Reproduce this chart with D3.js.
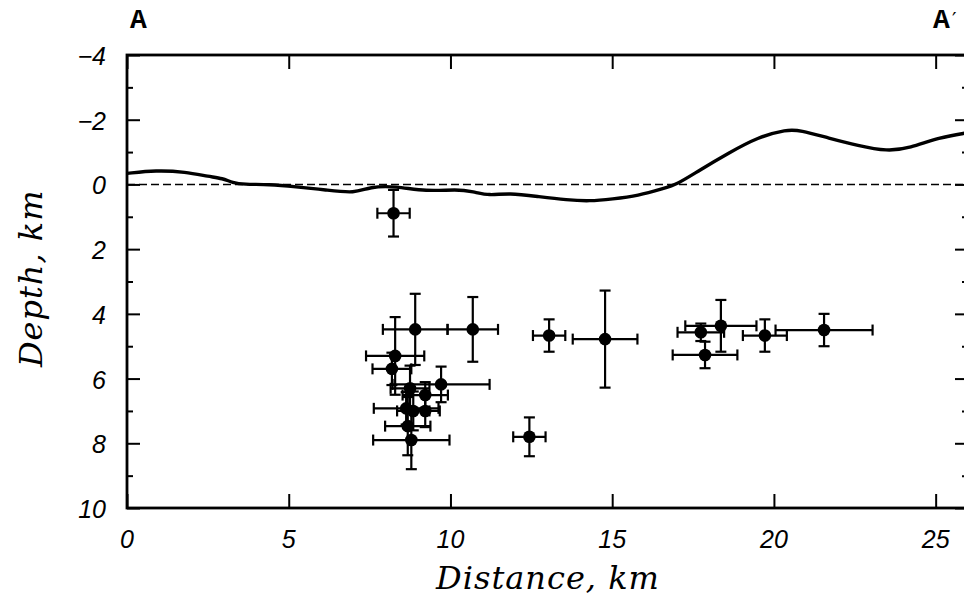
<!DOCTYPE html>
<html>
<head>
<meta charset="utf-8">
<script src="https://cdn.jsdelivr.net/npm/d3@7"></script>
<style>
  html, body { margin: 0; padding: 0; background: #fff; }
  svg { display: block; }
</style>
</head>
<body>
<div id="chart"></div>
<script>
// topografia ao longo do perfil A-A' (elevação como profundidade negativa)
const topoDist = [0, 0.9, 1.8, 2.55, 2.95, 3.27, 3.6, 4.4, 5.2, 6.15, 7.05, 7.5, 8.3, 9.25, 10.2, 10.7, 11.2, 11.8, 12.75, 13.6, 14.3, 15.0, 15.8, 16.6, 17.0, 17.7, 18.6, 19.5, 20.4, 20.8, 21.7, 22.6, 23.5, 24.2, 25.1, 26.0];
const topoDepth = [-0.34, -0.44, -0.39, -0.24, -0.19, -0.05, 0.0, 0.0, 0.07, 0.17, 0.28, 0.07, 0.05, 0.22, 0.15, 0.22, 0.35, 0.26, 0.38, 0.48, 0.52, 0.45, 0.35, 0.12, 0.0, -0.44, -0.97, -1.46, -1.7, -1.68, -1.43, -1.2, -1.02, -1.12, -1.45, -1.6];

// hipocentros com barras de erro
const qDist     = [8.24, 8.91, 10.69, 8.29, 8.19, 8.75, 9.71, 9.22, 8.63, 8.85, 9.22, 8.68, 8.79, 12.44, 13.05, 14.78, 17.74, 18.36, 17.87, 19.72, 21.55];
const qDepth    = [0.89, 4.48, 4.48, 5.3, 5.7, 6.3, 6.18, 6.51, 6.92, 7.0, 7.0, 7.47, 7.9, 7.8, 4.67, 4.78, 4.57, 4.37, 5.27, 4.67, 4.5];
const qDistErr  = [0.5, 1.0, 0.78, 0.9, 0.6, 0.6, 1.5, 0.7, 1.0, 0.5, 0.45, 0.7, 1.18, 0.5, 0.5, 1.0, 0.72, 1.1, 1.0, 0.68, 1.5];
const qDepthErr = [0.72, 1.1, 1.0, 1.2, 0.5, 0.7, 0.55, 0.4, 0.5, 0.6, 0.5, 0.9, 0.9, 0.6, 0.5, 1.5, 0.27, 0.8, 0.41, 0.5, 0.5];

const yTickVals = [-4, -2, 0, 2, 4, 6, 8, 10];
const xTickVals = [0, 5, 10, 15, 20, 25];

const width = 964, height = 597;
const svg = d3.select("#chart").append("svg")
    .attr("width", width)
    .attr("height", height);

const x = d3.scaleLinear().domain([0, 26]).range([127, 968]);
const y = d3.scaleLinear().domain([-4, 10]).range([55, 508]);

const quakes = qDist.map((d, i) => ({ x: d, y: qDepth[i], ex: qDistErr[i], ey: qDepthErr[i] }));
const topo = topoDist.map((d, i) => ({ x: d, y: topoDepth[i] }));

// linha do nível do mar
svg.append("line")
    .attr("x1", x(0)).attr("x2", x(26))
    .attr("y1", y(0)).attr("y2", y(0))
    .attr("stroke", "#000").attr("stroke-width", 1.6)
    .attr("stroke-dasharray", "8,4");

// topografia
svg.append("path")
    .datum(topo)
    .attr("fill", "none")
    .attr("stroke", "#000")
    .attr("stroke-width", 3.4)
    .attr("stroke-linejoin", "round")
    .attr("d", d3.line().x(d => x(d.x)).y(d => y(d.y)).curve(d3.curveBasis));

// barras de erro
const cap = 5.5;
const eb = svg.append("g").attr("stroke", "#000").attr("stroke-width", 2.2).attr("fill", "none");
quakes.forEach(q => {
    const g = eb.append("g");
    g.append("line").attr("x1", x(q.x - q.ex)).attr("x2", x(q.x + q.ex)).attr("y1", y(q.y)).attr("y2", y(q.y));
    g.append("line").attr("x1", x(q.x - q.ex)).attr("x2", x(q.x - q.ex)).attr("y1", y(q.y) - cap).attr("y2", y(q.y) + cap);
    g.append("line").attr("x1", x(q.x + q.ex)).attr("x2", x(q.x + q.ex)).attr("y1", y(q.y) - cap).attr("y2", y(q.y) + cap);
    g.append("line").attr("x1", x(q.x)).attr("x2", x(q.x)).attr("y1", y(q.y - q.ey)).attr("y2", y(q.y + q.ey));
    g.append("line").attr("x1", x(q.x) - cap).attr("x2", x(q.x) + cap).attr("y1", y(q.y - q.ey)).attr("y2", y(q.y - q.ey));
    g.append("line").attr("x1", x(q.x) - cap).attr("x2", x(q.x) + cap).attr("y1", y(q.y + q.ey)).attr("y2", y(q.y + q.ey));
});

svg.append("g")
    .selectAll("circle")
    .data(quakes)
    .enter().append("circle")
    .attr("cx", d => x(d.x))
    .attr("cy", d => y(d.y))
    .attr("r", 6.3)
    .attr("fill", "#000");

// eixos (ticks para dentro)
const tickFont = "'Liberation Sans', Arial, sans-serif";

const xBottom = svg.append("g")
    .attr("transform", `translate(0,${y(10)})`)
    .call(d3.axisTop(x).tickValues(xTickVals).tickSize(14).tickFormat(""));
const xTop = svg.append("g")
    .attr("transform", `translate(0,${y(-4)})`)
    .call(d3.axisBottom(x).tickValues(xTickVals).tickSize(14).tickFormat(""));

const yMinor = d3.range(-4, 11, 1).filter(v => v % 2 !== 0);
const yLeft = svg.append("g")
    .attr("transform", `translate(${x(0)},0)`)
    .call(d3.axisRight(y).tickValues(yTickVals).tickSize(13).tickFormat(""));
const yLeftMinor = svg.append("g")
    .attr("transform", `translate(${x(0)},0)`)
    .call(d3.axisRight(y).tickValues(yMinor).tickSize(6).tickFormat(""));
const yRight = svg.append("g")
    .attr("transform", `translate(${x(26)},0)`)
    .call(d3.axisLeft(y).tickValues(yTickVals).tickSize(13).tickFormat(""));
const yRightMinor = svg.append("g")
    .attr("transform", `translate(${x(26)},0)`)
    .call(d3.axisLeft(y).tickValues(yMinor).tickSize(6).tickFormat(""));

[xBottom, xTop, yLeft, yLeftMinor, yRight, yRightMinor].forEach(a => {
    a.select(".domain").remove();
    a.selectAll(".tick line").attr("stroke", "#000").attr("stroke-width", 2);
});

// moldura
svg.append("rect")
    .attr("x", x(0)).attr("y", y(-4))
    .attr("width", x(26) - x(0)).attr("height", y(10) - y(-4))
    .attr("fill", "none").attr("stroke", "#000").attr("stroke-width", 2.8);

// rótulos dos ticks
svg.append("g").selectAll("text")
    .data(yTickVals)
    .enter().append("text")
    .attr("x", 106)
    .attr("y", d => y(d) + 10)
    .attr("text-anchor", "end")
    .attr("font-family", tickFont)
    .attr("font-style", "italic")
    .attr("font-size", 25)
    .text(d => d < 0 ? "\u2212" + Math.abs(d) : d);

svg.append("g").selectAll("text")
    .data(xTickVals)
    .enter().append("text")
    .attr("x", d => x(d))
    .attr("y", 548)
    .attr("text-anchor", "middle")
    .attr("font-family", tickFont)
    .attr("font-style", "italic")
    .attr("font-size", 25)
    .text(d => d);

// títulos dos eixos
svg.append("text")
    .attr("x", 548)
    .attr("y", 589)
    .attr("text-anchor", "middle")
    .attr("font-family", "'DejaVu Serif', serif")
    .attr("font-style", "italic")
    .attr("font-size", 32)
    .attr("letter-spacing", 1)
    .text("Distance, km");

svg.append("text")
    .attr("transform", `translate(42,${y(2.9)}) rotate(-90)`)
    .attr("text-anchor", "middle")
    .attr("font-family", "'DejaVu Serif', serif")
    .attr("font-style", "italic")
    .attr("font-size", 32)
    .attr("letter-spacing", 1)
    .text("Depth, km");

// marcadores do perfil
svg.append("text")
    .attr("x", 130).attr("y", 28)
    .attr("font-family", "'Liberation Mono', monospace")
    .attr("font-weight", "bold")
    .attr("font-size", 28)
    .text("A");
svg.append("text")
    .attr("x", 933).attr("y", 28)
    .attr("font-family", "'Liberation Mono', monospace")
    .attr("font-weight", "bold")
    .attr("font-size", 28)
    .text("A");
svg.append("text")
    .attr("x", 952).attr("y", 26)
    .attr("font-family", "'DejaVu Sans', sans-serif")
    .attr("font-size", 20)
    .text("\u2032");
</script>
</body>
</html>
